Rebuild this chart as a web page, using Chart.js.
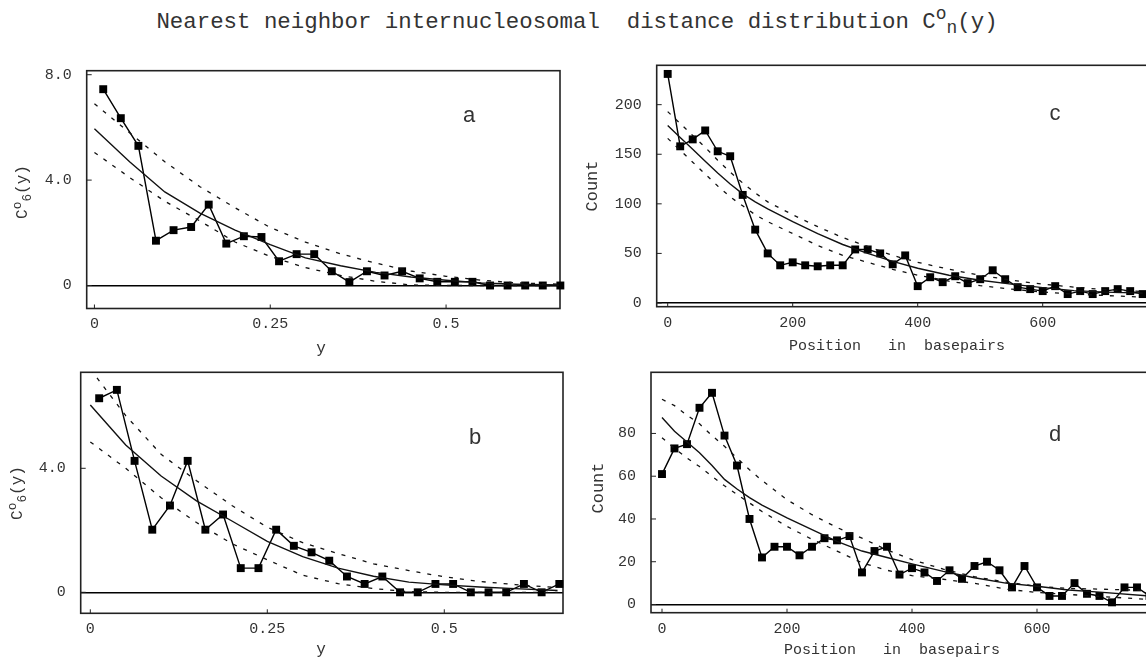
<!DOCTYPE html>
<html>
<head>
<meta charset="utf-8">
<script src="https://cdn.jsdelivr.net/npm/chart.js@4.4.1/dist/chart.umd.min.js"></script>
<style>
  body { margin: 0; width: 1146px; height: 659px; overflow: hidden; background: #fff; position: relative;
         font-family: "Liberation Mono", monospace; color: #333; }
  canvas { position: absolute; }
  .lbl { position: absolute; transform: translate(-50%, -50%); white-space: pre; line-height: 1; }
  .rot { transform: translate(-50%, -50%) rotate(-90deg); }
  sup, sub { font-size: 0.8em; line-height: 0; }
</style>
</head>
<body>
<div class="lbl" style="left:577px; top:22px; font-size:22.4px;">Nearest neighbor internucleosomal  distance distribution C<sup>o</sup><sub>n</sub>(y)</div>

<canvas id="chartA"></canvas>
<canvas id="chartB"></canvas>
<canvas id="chartC"></canvas>
<canvas id="chartD"></canvas>

<div class="lbl rot" style="left:23px; top:192px; font-size:16px;">C<sup>o</sup><sub>6</sub>(y)</div>
<div class="lbl rot" style="left:18px; top:493px; font-size:16px;">C<sup>o</sup><sub>6</sub>(y)</div>
<div class="lbl rot" style="left:592px; top:186px; font-size:17px;">Count</div>
<div class="lbl rot" style="left:598px; top:488px; font-size:17px;">Count</div>

<div class="lbl" style="left:321px; top:349px; font-size:16px;">y</div>
<div class="lbl" style="left:321px; top:650px; font-size:16px;">y</div>
<div class="lbl" style="left:897px; top:346px; font-size:15px;">Position   in  basepairs</div>
<div class="lbl" style="left:892px; top:650px; font-size:15px;">Position   in  basepairs</div>

<div class="lbl" style="left:469px; top:115px; font-size:22px; font-family:'Liberation Sans';">a</div>
<div class="lbl" style="left:475px; top:437px; font-size:22px; font-family:'Liberation Sans';">b</div>
<div class="lbl" style="left:1055px; top:113px; font-size:22px; font-family:'Liberation Sans';">c</div>
<div class="lbl" style="left:1055px; top:436px; font-size:22px;">d</div>

<script>
// ---- data ----
// panels a, b : bin centres in y
const binsY = [0.0125, 0.0375, 0.0625, 0.0875, 0.1125, 0.1375, 0.1625, 0.1875, 0.2125, 0.2375,
               0.2625, 0.2875, 0.3125, 0.3375, 0.3625, 0.3875, 0.4125, 0.4375, 0.4625, 0.4875,
               0.5125, 0.5375, 0.5625, 0.5875, 0.6125, 0.6375, 0.6625];
const valuesA = [7.45, 6.35, 5.3, 1.7, 2.1, 2.22, 3.07, 1.59, 1.87, 1.84, 0.92, 1.19, 1.19, 0.54,
                 0.13, 0.54, 0.38, 0.54, 0.27, 0.14, 0.14, 0.14, 0, 0, 0, 0, 0];
const valuesB = [6.26, 6.53, 4.24, 2.02, 2.8, 4.24, 2.02, 2.51, 0.78, 0.78, 2.02, 1.5, 1.29, 1.02,
                 0.51, 0.27, 0.51, 0, 0, 0.27, 0.27, 0, 0, 0, 0.27, 0, 0.27];

// fitted curve (solid) and its bounds (dashed), panels a, b
const fitXab = [0, 0.05, 0.1, 0.15, 0.2, 0.25, 0.3, 0.35, 0.4, 0.45, 0.5, 0.55, 0.6, 0.66];
const fitMidA  = [5.95, 4.7, 3.55, 2.75, 2.1, 1.55, 1.05, 0.75, 0.5, 0.32, 0.2, 0.1, 0.05, 0.02];
const fitHighA = [6.9, 5.8, 4.7, 3.75, 2.95, 2.2, 1.65, 1.2, 0.85, 0.55, 0.35, 0.2, 0.1, 0.05];
const fitLowA  = [5.05, 4.1, 3.2, 2.45, 1.65, 1.1, 0.68, 0.38, 0.16, 0.02, 0, 0, 0, 0];
const fitMidB  = [6.04, 4.75, 3.75, 2.95, 2.3, 1.64, 1.15, 0.78, 0.52, 0.33, 0.24, 0.17, 0.12, 0.06];
const fitHighB = [7.2, 5.7, 4.45, 3.6, 2.8, 2.1, 1.6, 1.25, 0.92, 0.7, 0.5, 0.35, 0.25, 0.15];
const fitLowB  = [4.85, 4.0, 3.05, 2.25, 1.57, 1.05, 0.55, 0.28, 0.12, 0.02, 0, 0, 0, 0];

// panels c, d : position in basepairs
const posC = [0, 20, 40, 60, 80, 100, 120, 140, 160, 180, 200, 220, 240, 260, 280, 300, 320, 340,
              360, 380, 400, 420, 440, 460, 480, 500, 520, 540, 560, 580, 600, 620, 640, 660, 680,
              700, 720, 740, 760];
const countsC = [231, 158, 165, 174, 153, 148, 109, 74, 50, 38, 41, 38, 37, 38, 38, 54, 54, 50,
                 39, 48, 17, 26, 21, 27, 20, 24, 33, 24, 16, 14, 12, 17, 9, 12, 9, 12, 14, 12, 9];
const posD = [0, 20, 40, 60, 80, 100, 120, 140, 160, 180, 200, 220, 240, 260, 280, 300, 320, 340,
              360, 380, 400, 420, 440, 460, 480, 500, 520, 540, 560, 580, 600, 620, 640, 660, 680,
              700, 720, 740, 760, 780];
const countsD = [61, 73, 75, 92, 99, 79, 65, 40, 22, 27, 27, 23, 27, 31, 30, 32, 15, 25, 27, 14,
                 17, 15, 11, 16, 12, 18, 20, 16, 8, 18, 8, 4, 4, 10, 5, 4, 1, 8, 8, 4];

const fitXc = [0, 20, 40, 60, 80, 100, 120, 140, 160, 200, 240, 280, 320, 360, 400, 450, 500, 550, 600, 650, 700, 760];
const fitMidC  = [179, 167, 155, 143, 131, 120, 110, 102, 95, 82, 70, 59, 50, 42, 35, 28, 23, 19, 15.5, 12.5, 11, 10];
const fitHighC = [193, 181, 169, 157, 144, 132, 121, 111, 102, 89, 77, 66, 57, 48, 41, 34, 28, 23, 19, 16, 13.5, 11.5];
const fitLowC  = [166, 154, 142, 130, 118, 107, 98, 89, 82, 70, 58, 48, 41, 34, 28, 22, 17.5, 14, 11, 9, 7.5, 6];
const fitXd = [0, 20, 40, 60, 80, 100, 120, 140, 160, 200, 240, 280, 320, 360, 400, 450, 500, 550, 600, 650, 700, 780];
const fitMidD  = [87.5, 81, 76, 71, 65, 58.5, 54, 50, 46.5, 40.5, 35, 29.5, 25, 22, 19, 15.5, 12.5, 10, 8.5, 6.8, 5.8, 4];
const fitHighD = [96, 93, 88.5, 84.5, 79, 74, 68.5, 63, 58, 49, 42, 36, 31, 25.5, 21, 16.5, 13, 10.5, 8.5, 7.5, 7.2, 6.5];
const fitLowD  = [78, 73, 68.5, 64.5, 60, 55.5, 51.5, 47.5, 43.5, 36.5, 30.5, 25, 19.5, 16, 13.5, 11.8, 9.9, 7.2, 5.6, 4.7, 3.8, 2.3];

// tick values and labels
const ticksXab = [0, 0.25, 0.5];
const labelsXab = ['0', '0.25', '0.5'];
const ticksYa = [0, 4, 8];
const labelsYa = ['0', '4.0', '8.0'];
const ticksYb = [0, 4];
const labelsYb = ['0', '4.0'];
const ticksXcd = [0, 200, 400, 600];
const labelsXcd = ['0', '200', '400', '600'];
const ticksYc = [0, 50, 100, 150, 200];
const labelsYc = ['0', '50', '100', '150', '200'];
const ticksYd = [0, 20, 40, 60, 80];
const labelsYd = ['0', '20', '40', '60', '80'];

// ---- drawing ----
const pts = (xs, ys) => xs.map((x, i) => ({ x: x, y: ys[i] }));

// box frame + small inward tick marks
const framePlugin = {
  id: 'frame',
  beforeDatasetsDraw(chart) {
    const { ctx, chartArea: a, scales } = chart;
    ctx.save();
    ctx.strokeStyle = '#222';
    ctx.lineWidth = 1.6;
    ctx.strokeRect(a.left, a.top, a.right - a.left, a.bottom - a.top);
    ctx.lineWidth = 1;
    scales.x.ticks.forEach(t => {
      const x = scales.x.getPixelForValue(t.value);
      ctx.beginPath(); ctx.moveTo(x, a.bottom); ctx.lineTo(x, a.bottom - 4); ctx.stroke();
    });
    scales.y.ticks.forEach(t => {
      const y = scales.y.getPixelForValue(t.value);
      ctx.beginPath(); ctx.moveTo(a.left, y); ctx.lineTo(a.left + 5, y); ctx.stroke();
    });
    ctx.restore();
  }
};

const XAXIS_H = 30;
const tickFont = { family: 'Liberation Mono', size: 15 };

function makePanel(id, box, area, xr, yr, tx, lx, ty, ly, d) {
  const cv = document.getElementById(id);
  cv.width = box.w; cv.height = box.h;
  cv.style.left = box.x + 'px'; cv.style.top = box.y + 'px';
  const dashed = { borderColor: '#111', borderWidth: 1.3, borderDash: [4, 7], pointRadius: 0, tension: 0 };
  new Chart(cv, {
    type: 'line',
    data: {
      datasets: [
        Object.assign({ data: d.high }, dashed),
        Object.assign({ data: d.low }, dashed),
        { data: d.mid, borderColor: '#111', borderWidth: 1.4, pointRadius: 0, tension: 0 },
        { data: d.obs, borderColor: '#000', borderWidth: 1.4, pointStyle: 'rect', pointRadius: 5.6,
          pointBackgroundColor: '#000', pointBorderColor: '#000', pointBorderWidth: 0, clip: false }
      ]
    },
    options: {
      responsive: false, animation: false, devicePixelRatio: 1,
      layout: { padding: { left: 0, top: area.t - box.y, right: box.x + box.w - area.r,
                           bottom: box.y + box.h - area.b - XAXIS_H } },
      plugins: { legend: { display: false }, tooltip: { enabled: false } },
      scales: {
        x: {
          type: 'linear', min: xr[0], max: xr[1],
          afterFit: s => { s.height = XAXIS_H; },
          afterBuildTicks: s => { s.ticks = tx.map(v => ({ value: v })); },
          grid: { display: false, drawTicks: false },
          border: { display: false },
          ticks: { font: tickFont, color: '#333', padding: 7, maxRotation: 0,
                   callback: v => lx[tx.indexOf(v)] }
        },
        y: {
          type: 'linear', min: yr[0], max: yr[1],
          afterFit: s => { s.width = area.l - box.x; },
          afterBuildTicks: s => { s.ticks = ty.map(v => ({ value: v })); },
          grid: { drawTicks: false, lineWidth: 1.5,
                  color: c => (c.tick && c.tick.value === 0 ? '#000' : 'rgba(0,0,0,0)') },
          border: { display: false },
          ticks: { font: tickFont, color: '#333', padding: 15,
                   callback: v => ly[ty.indexOf(v)] }
        }
      }
    },
    plugins: [framePlugin]
  });
}

makePanel('chartA', { x: 0, y: 40, w: 580, h: 330 }, { l: 86.7, t: 70.7, r: 560, b: 308.5 },
  [-0.011, 0.662], [-0.873, 8.152], ticksXab, labelsXab, ticksYa, labelsYa,
  { high: pts(fitXab, fitHighA), low: pts(fitXab, fitLowA), mid: pts(fitXab, fitMidA), obs: pts(binsY, valuesA) });

makePanel('chartB', { x: 0, y: 345, w: 580, h: 314 }, { l: 80.7, t: 372.3, r: 563, b: 613.3 },
  [-0.0136, 0.6677], [-0.677, 7.097], ticksXab, labelsXab, ticksYb, labelsYb,
  { high: pts(fitXab, fitHighB), low: pts(fitXab, fitLowB), mid: pts(fitXab, fitMidB), obs: pts(binsY, valuesB) });

makePanel('chartC', { x: 590, y: 40, w: 580, h: 330 }, { l: 656.7, t: 65.3, r: 1150, b: 306.7 },
  [-17.6, 771.7], [-3.73, 239.7], ticksXcd, labelsXcd, ticksYc, labelsYc,
  { high: pts(fitXc, fitHighC), low: pts(fitXc, fitLowC), mid: pts(fitXc, fitMidC), obs: pts(posC, countsC) });

makePanel('chartD', { x: 590, y: 345, w: 580, h: 314 }, { l: 651, t: 372.3, r: 1150, b: 612.7 },
  [-17.6, 780.8], [-3.84, 108.6], ticksXcd, labelsXcd, ticksYd, labelsYd,
  { high: pts(fitXd, fitHighD), low: pts(fitXd, fitLowD), mid: pts(fitXd, fitMidD), obs: pts(posD, countsD) });
</script>
</body>
</html>
